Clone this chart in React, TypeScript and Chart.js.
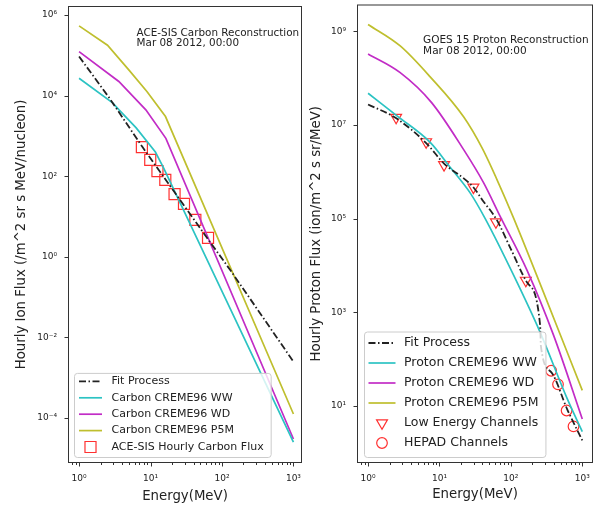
import React, { useEffect, useRef } from "react";
import { Chart, registerables } from "chart.js";

Chart.register(...registerables);

// ---------------- Left panel: ACE-SIS carbon ----------------
const carbonFitEnergy = [1, 2.63, 7.6, 63, 132, 1000];
const carbonFitFlux = [9.33e4, 8.91e3, 550, 2.82, 0.457, 2.51e-3];
const carbonWWEnergy = [1, 2.95, 3.6, 6.3, 11.7, 15.1, 1000];
const carbonWWFlux = [2.69e4, 6.61e3, 4.47e3, 1.58e3, 398, 166, 2.51e-5];
const carbonWDEnergy = [1, 3.6, 8.6, 16.4, 1000];
const carbonWDFlux = [1.23e5, 2.24e4, 4.42e3, 871, 3.02e-5];
const carbonP5MEnergy = [1, 2.5, 5, 8.9, 16.2, 1000];
const carbonP5MFlux = [5.37e5, 1.78e5, 4.27e4, 1.26e4, 3.02e3, 1.26e-4];
const aceEnergy = [7.57, 9.91, 12.5, 16.1, 21.7, 29.4, 42.4, 63.8];
const aceFlux = [525, 254, 133, 81.3, 35.9, 20.6, 8.26, 2.96];

// ---------------- Right panel: GOES 15 protons ----------------
const protonFitEnergy = [1, 2.45, 6.46, 11.7, 21.9, 30.2, 39.8, 63.1, 100, 168, 257, 263, 367, 617, 1000];
const protonFitFlux = [2.75e7, 1.41e7, 4.17e6, 1.48e6, 7.24e5, 4.57e5, 2.51e5, 9.55e4, 2.24e4, 4.37e3, 525, 191, 52.5, 8.32, 1.82];
const protonWWEnergy = [1, 2.57, 7.41, 14.1, 26.9, 43.7, 110, 257, 617, 1000];
const protonWWFlux = [4.79e7, 1.55e7, 4.27e6, 1.26e6, 3.55e5, 1e5, 6.03e3, 372, 14.1, 2.82];
const protonWDEnergy = [1, 2.82, 7.76, 21.7, 41.4, 70.8, 168, 398, 1000];
const protonWDFlux = [3.31e8, 1.32e8, 3.02e7, 3.02e6, 5.89e5, 1.12e5, 7.94e3, 316, 5.25];
const protonP5MEnergy = [1, 2.82, 7.41, 21.9, 39.8, 70.8, 110, 282, 1000];
const protonP5MFlux = [1.41e9, 4.9e8, 1.07e8, 1.48e7, 3.16e6, 4.79e5, 1e5, 2.82e3, 21.4];
const lowEnergy = [2.47, 6.5, 11.6, 29.9, 61.7, 162];
const lowFlux = [1.45e7, 4.37e6, 1.41e6, 4.68e5, 8.51e4, 4.79e3];
const hepadEnergy = [367, 457, 603, 753];
const hepadFlux = [56.2, 28.8, 7.94, 3.63];

// ---------------- Ticks ----------------
const xMajorTicks = [1, 10, 100, 1000];
const xMinorTicks = [0.8, 0.9, 2, 3, 4, 5, 6, 7, 8, 9, 20, 30, 40, 50, 60, 70, 80, 90, 200, 300, 400, 500, 600, 700, 800, 900];
const leftYTicks = [1e-4, 1e-2, 1, 1e2, 1e4, 1e6];
const rightYTicks = [10, 1e3, 1e5, 1e7, 1e9];

const FONT = "'DejaVu Sans', sans-serif";
const TEXT = "#222";
const C_WW = "#2cc3c3";
const C_WD = "#c22cc6";
const C_P5M = "#bfbf2e";
const C_FIT = "#222222";
const C_RED = "#ff3030";

const SUP: Record<string, string> = {
  "0": "\u2070", "1": "\u00b9", "2": "\u00b2", "3": "\u00b3", "4": "\u2074",
  "5": "\u2075", "6": "\u2076", "7": "\u2077", "8": "\u2078", "9": "\u2079", "-": "\u207b",
};
const powLabel = (v: number) => {
  const e = Math.round(Math.log10(v));
  return "10" + String(e).split("").map((c) => SUP[c]).join("");
};
const isIn = (list: number[], v: number) => list.some((m) => Math.abs(m - v) / m < 1e-6);
const toXY = (xs: number[], ys: number[]) => xs.map((x, i) => ({ x, y: ys[i] }));

const lineDs = (label: string, xs: number[], ys: number[], color: string, smooth: boolean, dash?: number[]) => ({
  label,
  data: toXY(xs, ys),
  borderColor: color,
  backgroundColor: color,
  borderWidth: dash ? 1.8 : 1.7,
  borderDash: dash || [],
  pointRadius: 0,
  fill: false,
  tension: 0,
  cubicInterpolationMode: smooth ? "monotone" : "default",
});

const markerDs = (label: string, xs: number[], ys: number[], style: string, radius: number, rotation = 0) => ({
  label,
  data: toXY(xs, ys),
  showLine: false,
  pointStyle: style,
  pointRadius: radius,
  pointRotation: rotation,
  pointBorderColor: C_RED,
  pointBackgroundColor: "rgba(0,0,0,0)",
  pointBorderWidth: 1.2,
  borderColor: C_RED,
  backgroundColor: "rgba(0,0,0,0)",
});

const FIT_DASH = [7, 2.5, 1.5, 2.5];

type Spec = {
  id: string;
  datasets: any[];
  xMin: number; xMax: number; yMin: number; yMax: number;
  yTicks: number[];
  yTitle: string;
  canvasLeft: number; canvasWidth: number; wantRight: number;
  yAxisWidth: number; yTitlePad: number;
  padTop: number; padRight: number; xTitlePad: number;
  note: string[]; noteFx: number; noteFy: number; noteSize: number; noteLineH: number;
  legend: { size: number; dx: number; dy: number; padL: number; handle: number; gap: number; padR: number; padT: number; padB: number; rowH: number };
};

function drawMarker(ctx: CanvasRenderingContext2D, style: string, x: number, y: number, r: number, rot: number, color: string, lw: number) {
  ctx.save();
  ctx.setLineDash([]);
  ctx.strokeStyle = color;
  ctx.lineWidth = lw;
  ctx.beginPath();
  if (style === "rect") {
    const h = r * Math.SQRT1_2;
    ctx.rect(x - h, y - h, 2 * h, 2 * h);
  } else if (style === "triangle") {
    let a = (rot * Math.PI) / 180;
    for (let k = 0; k < 3; k++) {
      const px = x + Math.sin(a) * r;
      const py = y - Math.cos(a) * r;
      if (k === 0) ctx.moveTo(px, py);
      else ctx.lineTo(px, py);
      a += (2 * Math.PI) / 3;
    }
    ctx.closePath();
  } else {
    ctx.arc(x, y, r, 0, Math.PI * 2);
  }
  ctx.stroke();
  ctx.restore();
}

function decoPlugin(s: Spec) {
  return {
    id: "deco" + s.id,
    afterDatasetsDraw(chart: any) {
      const ctx: CanvasRenderingContext2D = chart.ctx;
      const a = chart.chartArea;
      const xs = chart.scales.x;
      const ys = chart.scales.y;
      ctx.save();
      // frame
      ctx.strokeStyle = "#333";
      ctx.lineWidth = 1;
      ctx.setLineDash([]);
      ctx.strokeRect(a.left + 0.5, a.top + 0.5, a.right - a.left - 1, a.bottom - a.top - 1);
      // tick marks
      ctx.beginPath();
      xs.ticks.forEach((t: any) => {
        const px = Math.round(xs.getPixelForValue(t.value)) + 0.5;
        const len = isIn(xMajorTicks, t.value) ? 3.5 : 2;
        ctx.moveTo(px, a.bottom);
        ctx.lineTo(px, a.bottom + len);
      });
      ys.ticks.forEach((t: any) => {
        const py = Math.round(ys.getPixelForValue(t.value)) + 0.5;
        ctx.moveTo(a.left, py);
        ctx.lineTo(a.left - 3.5, py);
      });
      ctx.stroke();

      // annotation text
      ctx.fillStyle = TEXT;
      ctx.font = `${s.noteSize}px ${FONT}`;
      ctx.textAlign = "left";
      ctx.textBaseline = "middle";
      const nx = a.left + s.noteFx * (a.right - a.left);
      const ny = a.top + s.noteFy * (a.bottom - a.top);
      s.note.forEach((line, i) => ctx.fillText(line, nx, ny + i * s.noteLineH));

      // legend
      const L = s.legend;
      const items = chart.data.datasets;
      ctx.font = `${L.size}px ${FONT}`;
      const textW = Math.max(...items.map((d: any) => ctx.measureText(d.label).width));
      const boxW = L.padL + L.handle + L.gap + textW + L.padR;
      const boxH = L.padT + L.rowH * (items.length - 1) + L.padB;
      const bx = a.left + L.dx;
      const by = a.bottom - L.dy - boxH;
      ctx.beginPath();
      (ctx as any).roundRect(bx + 0.5, by + 0.5, boxW, boxH, 3);
      ctx.fillStyle = "rgba(255,255,255,0.8)";
      ctx.fill();
      ctx.strokeStyle = "#cccccc";
      ctx.lineWidth = 1;
      ctx.stroke();
      items.forEach((d: any, i: number) => {
        const cy = by + L.padT + i * L.rowH;
        const hx0 = bx + L.padL;
        const hx1 = hx0 + L.handle;
        if (d.showLine === false) {
          drawMarker(ctx, d.pointStyle, (hx0 + hx1) / 2, cy, d.pointRadius, d.pointRotation || 0, d.pointBorderColor, d.pointBorderWidth);
        } else {
          ctx.save();
          ctx.strokeStyle = d.borderColor;
          ctx.lineWidth = d.borderWidth;
          ctx.setLineDash(d.borderDash || []);
          ctx.beginPath();
          ctx.moveTo(hx0, cy);
          ctx.lineTo(hx1, cy);
          ctx.stroke();
          ctx.restore();
        }
        ctx.fillStyle = TEXT;
        ctx.textBaseline = "middle";
        ctx.fillText(d.label, hx1 + L.gap, cy);
      });
      ctx.restore();
    },
  };
}

function buildConfig(s: Spec): any {
  const tickFont = { family: FONT, size: 9 };
  const titleFont = { family: FONT, size: 13.3 };
  return {
    type: "line",
    data: { datasets: s.datasets },
    options: {
      animation: false,
      responsive: false,
      maintainAspectRatio: false,
      devicePixelRatio: 1,
      layout: { padding: { left: 0, right: s.padRight, top: s.padTop, bottom: 0 } },
      plugins: { legend: { display: false }, tooltip: { enabled: false } },
      scales: {
        x: {
          type: "logarithmic",
          position: "bottom",
          min: s.xMin,
          max: s.xMax,
          afterBuildTicks: (sc: any) => {
            sc.ticks = [...xMinorTicks, ...xMajorTicks].sort((p, q) => p - q).map((v) => ({ value: v }));
          },
          afterFit: (sc: any) => {
            sc.height = 42;
            sc.paddingLeft = 0;
            sc.paddingRight = 0;
          },
          grid: { display: false, drawTicks: true, tickLength: 10 },
          border: { display: false },
          ticks: {
            autoSkip: false,
            maxRotation: 0,
            minRotation: 0,
            padding: 0,
            font: tickFont,
            color: TEXT,
            callback: (v: number) => (isIn(xMajorTicks, v) ? powLabel(v) : ""),
          },
          title: { display: true, text: "Energy(MeV)", font: titleFont, color: TEXT, padding: { top: 0, bottom: s.xTitlePad } },
        },
        y: {
          type: "logarithmic",
          position: "left",
          min: s.yMin,
          max: s.yMax,
          afterBuildTicks: (sc: any) => {
            sc.ticks = s.yTicks.map((v) => ({ value: v }));
          },
          afterFit: (sc: any) => {
            sc.width = s.yAxisWidth;
            sc.paddingTop = 0;
            sc.paddingBottom = 0;
          },
          grid: { display: false, drawTicks: true, tickLength: 11 },
          border: { display: false },
          ticks: {
            autoSkip: false,
            padding: 0,
            font: tickFont,
            color: TEXT,
            callback: (v: number) => (isIn(s.yTicks, v) ? powLabel(v) : ""),
          },
          title: { display: true, text: s.yTitle, font: titleFont, color: TEXT, padding: { top: s.yTitlePad, bottom: 0 } },
        },
      },
    },
    plugins: [decoPlugin(s)],
  };
}

const leftSpec: Spec = {
  id: "L",
  datasets: [
    lineDs("Fit Process", carbonFitEnergy, carbonFitFlux, C_FIT, false, FIT_DASH),
    lineDs("Carbon CREME96 WW", carbonWWEnergy, carbonWWFlux, C_WW, false),
    lineDs("Carbon CREME96 WD", carbonWDEnergy, carbonWDFlux, C_WD, false),
    lineDs("Carbon CREME96 P5M", carbonP5MEnergy, carbonP5MFlux, C_P5M, false),
    markerDs("ACE-SIS Hourly Carbon Flux", aceEnergy, aceFlux, "rect", 7.8),
  ],
  xMin: 0.708, xMax: 1318, yMin: 7.66e-6, yMax: 1.67e6,
  yTicks: leftYTicks,
  yTitle: "Hourly Ion Flux (/m^2 sr s MeV/nucleon)",
  canvasLeft: 0, canvasWidth: 304, wantRight: 302,
  yAxisWidth: 68, yTitlePad: 14,
  padTop: 6, padRight: 2, xTitlePad: 0,
  note: ["ACE-SIS Carbon Reconstruction", "Mar 08 2012, 00:00"],
  noteFx: 0.293, noteFy: 0.059, noteSize: 10.4, noteLineH: 10.5,
  legend: { size: 11, dx: 6, dy: 6, padL: 5, handle: 23, gap: 9.5, padR: 7, padT: 8.5, padB: 10, rowH: 16.4 },
};

const rightSpec: Spec = {
  id: "R",
  datasets: [
    lineDs("Fit Process", protonFitEnergy, protonFitFlux, C_FIT, true, FIT_DASH),
    lineDs("Proton CREME96 WW", protonWWEnergy, protonWWFlux, C_WW, true),
    lineDs("Proton CREME96 WD", protonWDEnergy, protonWDFlux, C_WD, true),
    lineDs("Proton CREME96 P5M", protonP5MEnergy, protonP5MFlux, C_P5M, true),
    markerDs("Low Energy Channels", lowEnergy, lowFlux, "triangle", 6.3, 180),
    markerDs("HEPAD Channels", hepadEnergy, hepadFlux, "circle", 5.3),
  ],
  xMin: 0.708, xMax: 1413, yMin: 0.638, yMax: 3.77e9,
  yTicks: rightYTicks,
  yTitle: "Hourly Proton Flux (ion/m^2 s sr/MeV)",
  canvasLeft: 304, canvasWidth: 301, wantRight: 289,
  yAxisWidth: 53, yTitlePad: 5,
  padTop: 5, padRight: 12, xTitlePad: 2,
  note: ["GOES 15 Proton Reconstruction", "Mar 08 2012, 00:00"],
  noteFx: 0.28, noteFy: 0.0786, noteSize: 10.5, noteLineH: 11,
  legend: { size: 12.5, dx: 7, dy: 6, padL: 4.5, handle: 27, gap: 8.5, padR: 7, padT: 11.5, padB: 14, rowH: 20 },
};

const PAGE_H = 505;

function setCanvasBox(c: HTMLCanvasElement, w: number, h: number, top: number) {
  c.width = w;
  c.height = h;
  c.style.width = w + "px";
  c.style.height = h + "px";
  c.style.top = top + "px";
}

function Panel({ spec }: { spec: Spec }) {
  const ref = useRef<HTMLCanvasElement>(null);
  useEffect(() => {
    const canvas = ref.current as HTMLCanvasElement;
    setCanvasBox(canvas, spec.canvasWidth, PAGE_H, 0);
    let chart = new Chart(canvas, buildConfig(spec));
    // Chart.js may reserve extra room for tick labels; compensate so the plot box lands where wanted.
    const a = chart.chartArea;
    const dTop = Math.round(a.top - spec.padTop);
    const dRight = Math.round(spec.wantRight - a.right);
    if (dTop !== 0 || dRight !== 0) {
      chart.destroy();
      setCanvasBox(canvas, spec.canvasWidth + dRight, PAGE_H + dTop, -dTop);
      chart = new Chart(canvas, buildConfig(spec));
    }
    return () => chart.destroy();
  }, []);
  return (
    <canvas
      ref={ref}
      width={spec.canvasWidth}
      height={PAGE_H}
      style={{ position: "absolute", left: spec.canvasLeft, top: 0, width: spec.canvasWidth, height: PAGE_H, display: "block" }}
    />
  );
}

export default function App() {
  return (
    <div style={{ position: "absolute", left: 0, top: 0, width: 605, height: 505, background: "#fff", overflow: "hidden" }}>
      <Panel spec={leftSpec} />
      <Panel spec={rightSpec} />
    </div>
  );
}
